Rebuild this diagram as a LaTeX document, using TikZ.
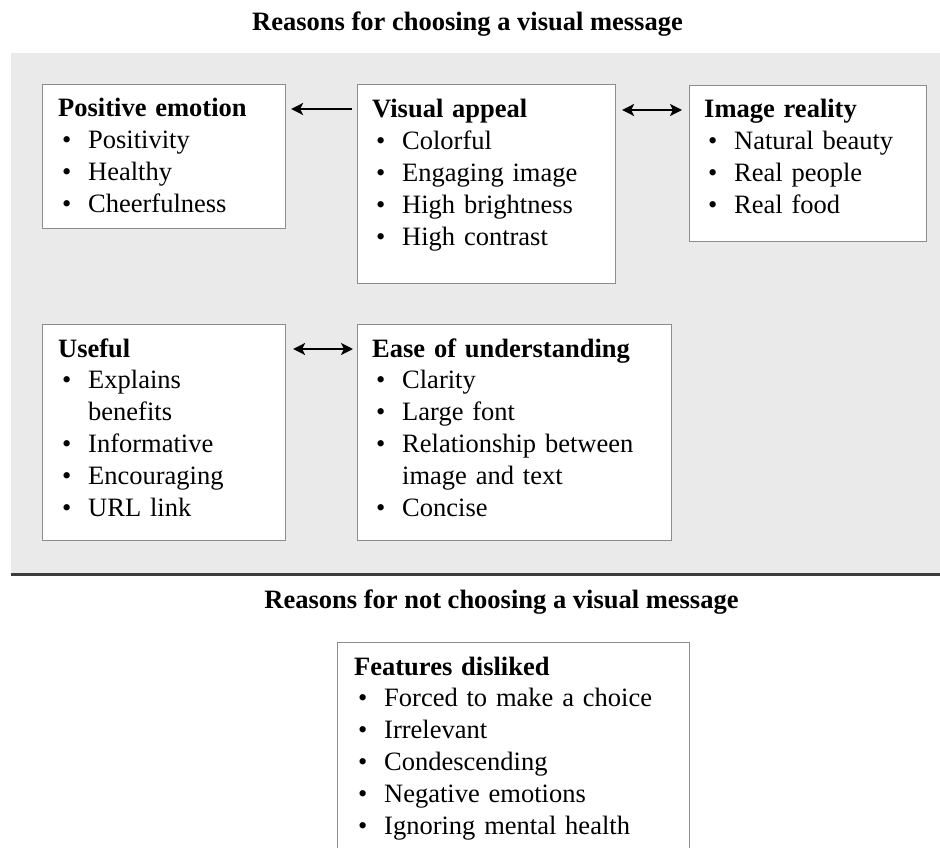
\documentclass[tikz,border=0pt]{standalone}
\usepackage{fontspec}
\setmainfont{Liberation Serif}
\usetikzlibrary{arrows.meta,calc}
\definecolor{bgpanel}{RGB}{234,234,234}
\definecolor{boxline}{RGB}{140,140,140}
\definecolor{sepline}{RGB}{60,60,60}
\newcommand{\bul}{\makebox[30pt][l]{\hspace{4pt}•}}
\newcommand{\hang}{\hspace*{30pt}}
\begin{document}
\begin{tikzpicture}[x=1pt,y=-1pt,
  box/.style={draw=boxline, line width=1.1pt, fill=white, anchor=north west, inner sep=0pt},
  txt/.style={anchor=base west, inner sep=0pt, text width=330pt, align=left,
    font=\fontsize{26.5}{31.8}\selectfont},
  ttl/.style={anchor=base, inner sep=0pt, font=\fontsize{26.5}{31.8}\selectfont\bfseries},
  tip/.style={Stealth[length=12pt,width=12pt,inset=3pt]},
  arr/.style={line width=1.8pt, -{Stealth[length=12pt,width=12pt,inset=3pt]}},
  dbl/.style={line width=1.8pt, {Stealth[length=12pt,width=12pt,inset=3pt]}-{Stealth[length=12pt,width=12pt,inset=3pt]}}
]
\useasboundingbox (0,0) rectangle (940,848);
\clip (0,0) rectangle (940,848);

% panel
\fill[bgpanel] (11,53) rectangle (940,573);
\draw[sepline, line width=2.5pt] (11,574.5) -- (940,574.5);

% titles
\node[ttl] (t1) at (467.5,31) {Reasons for choosing a visual message};
\node[ttl] (t2) at (501.5,608) {Reasons for not choosing a visual message};

% boxes
\node[box, minimum width=243pt, minimum height=144pt] (pe) at (42,84) {};
\node[box, minimum width=258pt, minimum height=199pt] (va) at (357,84) {};
\node[box, minimum width=237pt, minimum height=156pt] (ir) at (689,85) {};
\node[box, minimum width=243pt, minimum height=216pt] (us) at (42,324) {};
\node[box, minimum width=314pt, minimum height=216pt] (eu) at (357,324) {};
\node[box, minimum width=352pt, minimum height=240pt] (fd) at (337,642) {};

% texts
\node[txt] (pet) at (58,117) {\textbf{Positive emotion}\\
\bul Positivity\\
\bul Healthy\\
\bul Cheerfulness};
\node[txt] (vat) at (372,118) {\textbf{Visual appeal}\\
\bul Colorful\\
\bul Engaging image\\
\bul High brightness\\
\bul High contrast};
\node[txt] (irt) at (704,118) {\textbf{Image reality}\\
\bul Natural beauty\\
\bul Real people\\
\bul Real food};
\node[txt] (ust) at (58,357) {\textbf{Useful}\\
\bul Explains\\
\hang benefits\\
\bul Informative\\
\bul Encouraging\\
\bul URL link};
\node[txt] (eut) at (372,357) {\textbf{Ease of understanding}\\
\bul Clarity\\
\bul Large font\\
\bul Relationship between\\
\hang image and text\\
\bul Concise};
\node[txt] (fdt) at (354,675) {\textbf{Features disliked}\\
\bul Forced to make a choice\\
\bul Irrelevant\\
\bul Condescending\\
\bul Negative emotions\\
\bul Ignoring mental health};

% connectors
\draw[arr] ($(va.north west)+(-5,25)$) -- ($(pe.north east)+(5,25)$);
\draw[dbl] ($(va.north east)+(6,26)$) -- ($(ir.north west)+(-7,25)$);
\draw[dbl] ($(us.north east)+(7,25)$) -- ($(eu.north west)+(-4,25)$);
\end{tikzpicture}
\end{document}
